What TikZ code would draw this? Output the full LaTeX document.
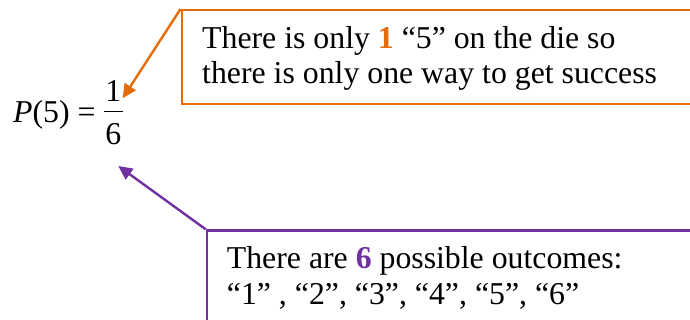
\documentclass[tikz,border=0pt]{standalone}
\usepackage{fontspec}
\setmainfont{Liberation Serif}
\usetikzlibrary{arrows.meta}
\definecolor{orng}{HTML}{E46C0A}
\definecolor{purp}{HTML}{7030A0}
\tikzset{
  txt/.style={inner sep=0pt, anchor=base west, font=\fontsize{31.8}{36}\selectfont},
  boxframe/.style={draw=#1, line width=2.4pt, inner sep=0pt, anchor=north west},
  callout/.style={draw=#1, line width=2.4pt, -{Triangle[length=14pt,width=13pt]}}
}
\begin{document}
\begin{tikzpicture}[x=1pt,y=1pt]
\useasboundingbox (0,0) rectangle (690,-320);
\clip (0,0) rectangle (690,-320);
\fill[white] (0,0) rectangle (690,-320);
% formula
\node[txt] (lhs) at (13,-123) {\textit{P}(5)\hspace{8pt}=};
\node[txt, anchor=base] (num) at (113.4,-101.7) {1};
\node[txt, anchor=base] (den) at (113.4,-145) {6};
\coordinate (barl) at (104,-111.7);
\coordinate (barr) at (122.7,-111.7);
\draw[line width=1.3pt] (barl) -- (barr);
% orange box
\node[boxframe=orng, minimum width=600pt, minimum height=94pt] (ob) at (180.5,-9) {};
\node[txt] (ot1) at (202,-49) {There is only {\bfseries\color{orng}1} “5” on the die so};
\node[txt] (ot2) at (202,-83.3) {there is only one way to get success};
% purple box
\node[boxframe=purp, minimum width=600pt, minimum height=140pt] (pb) at (205.7,-229.3) {};
\node[txt] (pt1) at (226.7,-268.3) {There are {\bfseries\color{purp}6} possible outcomes:};
\node[txt] (pt2) at (226.7,-304) {“1” , “2”, “3”, “4”, “5”, “6”};
% arrows
\coordinate (otip) at (122.7,-98.3);
\coordinate (ptip) at (118.3,-166);
\draw[callout=orng] (ob.north west) -- (otip);
\draw[callout=purp] (pb.north west) -- (ptip);
\end{tikzpicture}
\end{document}
